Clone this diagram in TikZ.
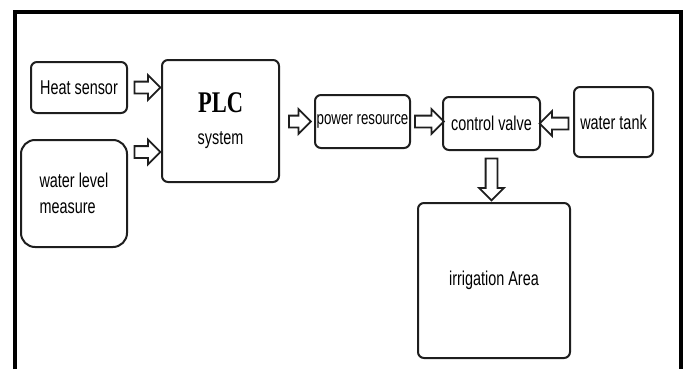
\documentclass[tikz,border=0pt]{standalone}
\usepackage{fontspec}
\setmainfont[FakeStretch=0.72]{Liberation Sans}
\newfontfamily\plcfont[FakeStretch=0.75]{Liberation Serif}
\usepackage{tikz}
\usetikzlibrary{calc}
\usetikzlibrary{shapes.arrows}
\definecolor{boxLine}{HTML}{1E1E1E}

\begin{document}
\begin{tikzpicture}[x=1pt,y=-1pt]
\tikzset{BlockBox/.style={
  draw=boxLine,
  line width=2pt,
  rectangle,
  rounded corners=6pt,
  align=center,
  inner sep=0pt,
  font=\fontsize{20}{24}\selectfont
}}
\tikzset{BlockArrow/.style={
  single arrow,
  draw=boxLine,
  line width=1.8pt,
  sloped,
  allow upside down,
  inner xsep=0pt,
  inner ysep=0pt,
  single arrow head extend=6.5pt,
  single arrow head indent=0pt,
  minimum height=#1
}}
\tikzset{BlockArrow/.default=26pt}
\newcommand{\shaft}{\rule{0pt}{10pt}}

\useasboundingbox (0,0) rectangle (687,369);
\draw[line width=4pt] (15,369) -- (15,12) -- (681,12) -- (681,369);

\node[BlockBox, minimum width=96pt, minimum height=51pt] (heat) at (79,87.5) {Heat sensor};
\node[BlockBox, minimum width=106pt, minimum height=107pt, rounded corners=14pt,
      align=left] (wlevel) at (74,193.5) {water level\\[2pt]measure};
\node[BlockBox, minimum width=117pt, minimum height=122pt] (plc) at (220.5,121)
     {{\plcfont\bfseries\fontsize{30}{30}\selectfont PLC}\\[8pt]system};
\node[BlockBox, minimum width=95pt, minimum height=53pt, font=\fontsize{18.5}{22}\selectfont]
     (power) at (362.5,121.5) {power resource};
\node[BlockBox, minimum width=97pt, minimum height=53pt] (valve) at (491.5,123.5) {control valve};
\node[BlockBox, minimum width=79pt, minimum height=70pt] (tank) at (613.5,122) {water tank};
\node[BlockBox, minimum width=152pt, minimum height=155pt] (irrig) at (494,280.5) {irrigation Area};

\coordinate (plcin) at ($(plc.west)!.5!(plc.south west)$);

\path (heat.east) -- node[BlockArrow] {\shaft} (plc.west |- heat.east);
\path (wlevel.east |- plcin) -- node[BlockArrow] {\shaft} (plcin);
\path (plc.east |- power.west) -- node[BlockArrow=22pt] {\shaft} (power.west);
\path (power.east) -- node[BlockArrow=29pt] {\shaft} (valve.west |- power.east);
\path (tank.west |- valve.east) -- node[BlockArrow=29pt] {\shaft} (valve.east);
\path (valve.south) -- node[BlockArrow=42pt] {\shaft} (valve.south |- irrig.north);
\end{tikzpicture}
\end{document}
